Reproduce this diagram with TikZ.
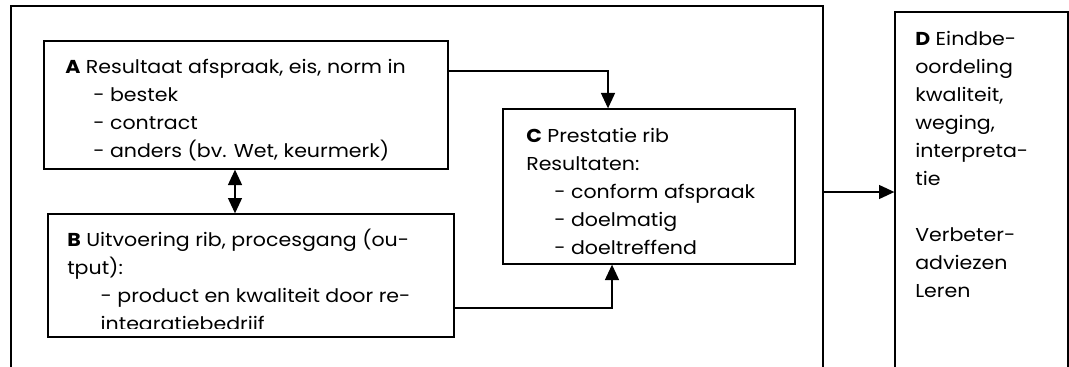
\documentclass[tikz,border=0pt]{standalone}
\usepackage{fontspec}
\setmainfont{Poppins}[FakeStretch=1.1]
\usetikzlibrary{arrows.meta,fit}
\newcommand{\ind}{\hspace*{21pt}}
\newcommand{\indb}{\hspace*{25pt}}

\begin{document}
\begin{tikzpicture}[x=0.75pt,y=-0.75pt,
  box/.style={draw,line width=1pt,inner sep=0pt},
  txt/.style={anchor=north west,align=left,inner sep=0pt,font=\fontsize{14pt}{21pt}\selectfont},
  arr/.style={line width=1pt,-{Triangle[length=11.5pt,width=10.5pt]}},
  dbl/.style={line width=1pt,{Triangle[length=11.5pt,width=10.5pt]}-{Triangle[length=11.5pt,width=10.5pt]}}]

\useasboundingbox (0,0) rectangle (1069,367);
\clip (0,0) rectangle (1069,367);

\node[box,fit={(11,6) (823,400)}] (outer) {};
\node[box,fit={(44,41) (448,169)}] (A) {};
\node[box,fit={(48,214) (454,337)}] (B) {};
\node[box,fit={(503,109) (795,264)}] (C) {};
\node[box,fit={(895,12) (1068,400)}] (D) {};

\node[txt] (Atxt) at (65,53.4) {\strut\textbf{A} Resultaat afspraak, eis, norm in\\
  \ind- bestek\\ \ind- contract\\ \ind- anders (bv. Wet, keurmerk)};
\begin{scope}
  \clip (B.north west) rectangle (B.east |- 0,328);
  \node[txt] (Btxt) at (67,226.4) {\strut\textbf{B} Uitvoering rib, procesgang (ou-\\
    tput):\\ \indb- product en kwaliteit door re-\\ \indb integratiebedrijf};
\end{scope}
\node[txt] (Ctxt) at (526,122.4) {\strut\textbf{C} Prestatie rib\\ Resultaten:\\
  \ind- conform afspraak\\ \ind- doelmatig\\ \ind- doeltreffend};
\node[txt] (Dtxt) at (915,25.4) {\strut\textbf{D} Eindbe-\\ oordeling\\ kwaliteit,\\
  weging,\\ interpreta-\\ tie\\[21pt] Verbeter-\\ adviezen\\ Leren};

\draw[dbl] (A.south -| 235,0) -- (B.north -| 235,0);
\draw[arr] (A.east |- 0,71) -| (C.north -| 608,0);
\draw[arr] (B.east |- 0,308) -| (C.south -| 612,0);
\draw[arr] (outer.east |- 0,192) -- (D.west |- 0,192);

\end{tikzpicture}
\end{document}
